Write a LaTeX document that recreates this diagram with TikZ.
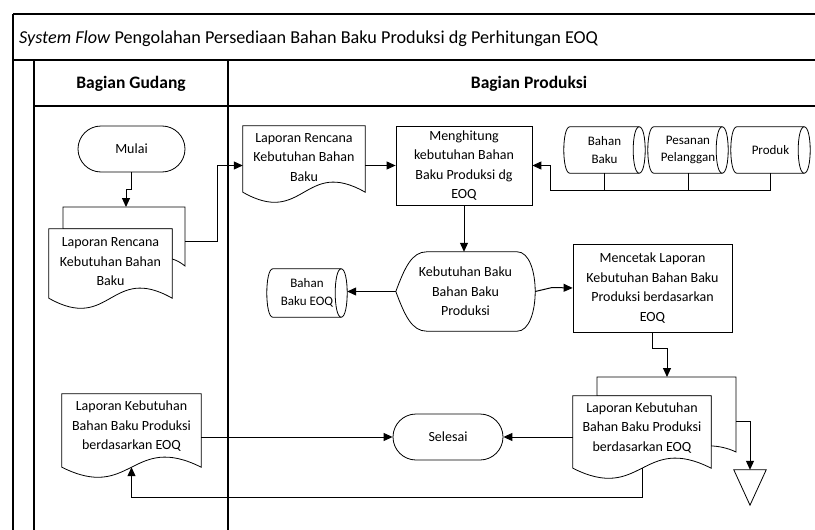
\documentclass[tikz,border=0pt]{standalone}
\usepackage{fontspec}
\setmainfont{Carlito}
\usetikzlibrary{arrows.meta,calc,backgrounds}

% document symbol with a wavy lower edge (node spans top edge to wave midline)
\newcommand{\docshape}[1]{%
  \draw[shp] (#1.south west) -- (#1.north west) -- (#1.north east) -- (#1.south east)
    .. controls ($(#1.south)+(0,-35)$) and ($(#1.south)+(0,35)$) .. (#1.south west) -- cycle;}

% horizontal storage cylinder, visible end on the right
\newcommand{\cylshape}[1]{%
  \draw[shp] ($(#1.north west)+(6,0)$) -- ($(#1.north east)+(-6,0)$)
    .. controls ($(#1.north east)+(2,0)$) and ($(#1.south east)+(2,0)$) .. ($(#1.south east)+(-6,0)$)
    -- ($(#1.south west)+(6,0)$)
    .. controls ($(#1.south west)+(-2,0)$) and ($(#1.north west)+(-2,0)$) .. ($(#1.north west)+(6,0)$) -- cycle;
  \draw[shp,fill=none] ($(#1.north east)+(-6,0)$)
    .. controls ($(#1.north east)+(-14,0)$) and ($(#1.south east)+(-14,0)$) .. ($(#1.south east)+(-6,0)$);}

\begin{document}
\begin{tikzpicture}[x=1pt,y=-1pt,
  shp/.style={draw=black,line width=0.8pt,fill=white},
  frame/.style={draw=black,line width=1.3pt},
  sz/.style 2 args={minimum width=#1pt,minimum height=#2pt,inner sep=0pt},
  txt/.style={font=\fontsize{14}{19.5}\selectfont,align=center},
  small/.style={font=\fontsize{13}{17.5}\selectfont,align=center},
  head/.style={font=\fontsize{17.5}{20}\selectfont\bfseries},
  proc/.style={shp,txt},
  term/.style={shp,txt,rounded corners=23pt},
  arr/.style={draw=black,line width=1pt,-{Triangle[length=9pt,width=8pt]}},
  link/.style={draw=black,line width=1pt}]

\useasboundingbox (0,0) rectangle (815,530);

% ---- swimlane frame ----
\draw[frame] (13,14) -- (815,14);
\draw[frame] (13,14) -- (13,530);
\draw[frame] (13,60) -- (815,60);
\draw[frame] (34,60) -- (34,530);
\draw[frame] (34,106) -- (815,106);
\draw[frame] (228,60) -- (228,530);

\node[anchor=base west,font=\fontsize{18.2}{21}\selectfont,inner sep=0pt] (title) at (19,43)
  {\textit{System Flow} Pengolahan Persediaan Bahan Baku Produksi dg Perhitungan EOQ};
\node[head] (hgud) at (131,84) {Bagian Gudang};
\node[head] (hprod) at (529,84) {Bagian Produksi};

% ---- symbol areas ----
\node[term,sz={107}{46}] (mulai) at (131.5,149) {Mulai};
\node[sz={123}{69}] (ld1) at (110.5,263.5) {};
\node[sz={122}{66}] (ld2) at (304,159) {};
\node[proc,sz={136}{79}] (p1) at (464,165.5) {Menghitung\\kebutuhan Bahan\\Baku Produksi dg\\EOQ};
\node[small,sz={81}{46}] (c1) at (604.5,150) {Bahan\\Baku};
\node[small,sz={80}{46}] (c2) at (688,150) {Pesanan\\Pelanggan};
\node[small,sz={79}{46}] (c3) at (770.5,150) {Produk};
\node[txt,sz={139}{79}] (disp) at (465.5,291.5) {Kebutuhan Baku\\Bahan Baku\\Produksi};
\node[small,sz={80}{48}] (eoq) at (307,293) {Bahan\\Baku EOQ};
\node[proc,sz={159}{88}] (p2) at (652.5,288) {Mencetak Laporan\\Kebutuhan Bahan Baku\\Produksi berdasarkan\\EOQ};
\node[sz={138}{72}] (md2) at (642,432) {};
\node[sz={32}{35}] (tri) at (750,487.5) {};
\node[term,sz={110}{46}] (sel) at (448,437) {Selesai};
\node[sz={139}{73}] (ld3) at (131.5,430.5) {};

% ---- symbol outlines ----
\begin{scope}[on background layer]
  % stacked report in Bagian Gudang
  \draw[shp] (63,229) -- (63,207) -- (185,207) -- (185,266)
    .. controls (180,262) and (176,260) .. (172,259) -- (172,229) -- cycle;
  \docshape{ld1}
  \docshape{ld2}
  \docshape{ld3}
  % stacked report in Bagian Produksi
  \draw[shp] (597,396) -- (597,377) -- (736,377) -- (736,452)
    .. controls (728,448) and (718,446) .. (711,446) -- (711,396) -- cycle;
  \docshape{md2}
  \cylshape{c1}
  \cylshape{c2}
  \cylshape{c3}
  \cylshape{eoq}
  % display symbol
  \draw[shp] (disp.west)
    .. controls ($(disp.west)+(9,-24)$) and ($(disp.north west)+(16,0)$) .. ($(disp.north west)+(31,0)$)
    -- ($(disp.north east)+(-18,0)$)
    .. controls ($(disp.north east)+(6,0)$) and ($(disp.south east)+(6,0)$) .. ($(disp.south east)+(-18,0)$)
    -- ($(disp.south west)+(31,0)$)
    .. controls ($(disp.south west)+(16,0)$) and ($(disp.west)+(9,24)$) .. (disp.west) -- cycle;
  % offline storage
  \draw[shp] (tri.north west) -- (tri.north east) -- (tri.south) -- cycle;
\end{scope}

% ---- document texts ----
\node[txt] (ld1t) at ([yshift=1.5pt]ld1.center) {Laporan Rencana\\Kebutuhan Bahan\\Baku};
\node[txt] (ld2t) at ([yshift=1.5pt]ld2.center) {Laporan Rencana\\Kebutuhan Bahan\\Baku};
\node[txt] (md2t) at ([yshift=4pt]md2.center) {Laporan Kebutuhan\\Bahan Baku Produksi\\berdasarkan EOQ};
\node[txt] (ld3t) at ([yshift=4pt]ld3.center) {Laporan Kebutuhan\\Bahan Baku Produksi\\berdasarkan EOQ};

% ---- connection points on the rear pages ----
\coordinate (b1t) at (126,207);
\coordinate (b1r) at (185,241);
\coordinate (b2t) at (667,377);
\coordinate (b2r) at (736,421);
\coordinate (bus) at (550,190);
\coordinate (retl) at (0,497);

% ---- connectors ----
\draw[arr] (mulai.south) -- ++(0,17) -| (b1t);
\draw[arr] (b1r) -- ++(32,0) |- (ld2.west |- p1.west);
\draw[arr] (ld2.east |- p1.west) -- (p1.west);
\draw[link] (c1.south) -- (c1.south |- bus);
\draw[link] (c2.south) -- (c2.south |- bus);
\draw[arr] (c3.south) |- (bus) |- (p1.east);
\draw[arr] (p1.south) -- (p1.south |- disp.north);
\draw[arr] (disp.west) -- (eoq.east |- disp.west);
\draw[arr] (disp.east) -- ($(disp.east)+(17,-4)$) -- (p2.west);
\draw[arr] (p2.south) -- ++(0,16) -| (b2t);
\draw[arr] (b2r) -| (tri.north);
\draw[arr] (md2.west |- sel.east) -- (sel.east);
\draw[arr] (ld3.east |- sel.west) -- (sel.west);
\draw[arr] (md2.south) -- (md2.south |- retl) -| (ld3.south);

\end{tikzpicture}
\end{document}
